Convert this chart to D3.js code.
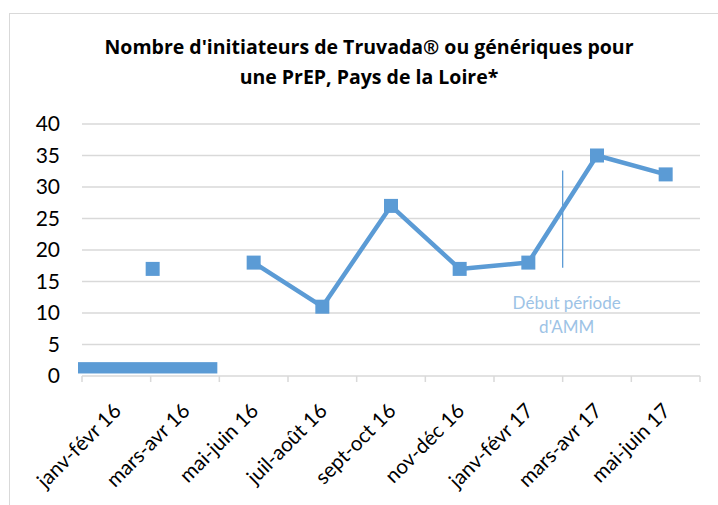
<!DOCTYPE html>
<html>
<head>
<meta charset="utf-8">
<title>Initiateurs PrEP Pays de la Loire</title>
<script src="https://d3js.org/d3.v7.min.js"></script>
<style>
body { margin: 0; background: #fff; }
svg { display: block; font-family: Lato, "Open Sans", sans-serif; }
.frame { fill: #fff; stroke: #d9d9d9; stroke-width: 1px; }
.grid line { stroke: #d9d9d9; stroke-width: 1.5px; }
.xaxis line { stroke: #d9d9d9; stroke-width: 1.5px; }
.title { font-family: "Open Sans", sans-serif; font-weight: bold; font-size: 19.5px; fill: #000; }
.ytick { font-size: 21px; fill: #000; }
.xtick { font-size: 20.5px; fill: #000; }
.serie { fill: none; stroke: #5b9bd5; stroke-width: 4.5px; stroke-linejoin: round; }
.mark { fill: #5b9bd5; }
.amm { stroke: #5b9bd5; stroke-width: 1.3px; }
.amm-text { font-size: 17px; fill: #9dc3e6; }
</style>
</head>
<body>
<script>

// --- data ---
var categories = ["janv-févr 16", "mars-avr 16", "mai-juin 16", "juil-août 16",
                  "sept-oct 16", "nov-déc 16", "janv-févr 17", "mars-avr 17", "mai-juin 17"];
var counts = [null, null, 18, 11, 27, 17, 18, 35, 32];   // first two periods hidden
var yTicks = [0, 5, 10, 15, 20, 25, 30, 35, 40];
var titleLines = ["Nombre d'initiateurs de Truvada® ou génériques pour",
                  "une PrEP, Pays de la Loire*"];

// hand placed marker, sitting on the left edge of its period
var looseMarkers = [{cat: "mars-avr 16", value: 17}];
// the thick band that masks the start of the series
var maskBand = {from: "janv-févr 16", to: "mars-avr 16", low: 0.4, high: 2.2};
// vertical line marking the AMM start, between two periods
var ammLine = {cat: "mars-avr 17", low: 17.2, high: 32.6};
var ammText = ["Début période", "d'AMM"];

var width = 718, height = 505,
    plotLeft = 82, plotRight = 700, plotTop = 124, plotBottom = 376,
    ms = 14; // marker size

var svg = d3.select("body").append("svg")
    .attr("width", width)
    .attr("height", height);

svg.append("rect").attr("class", "frame")
    .attr("x", 9.5).attr("y", 13.5)
    .attr("width", 730).attr("height", 520);

var x = d3.scaleBand().domain(categories).range([plotLeft, plotRight]).padding(0);
var y = d3.scaleLinear().domain([0, 40]).range([plotBottom, plotTop]);

// title
svg.append("g").selectAll("text")
    .data(titleLines)
  .enter().append("text")
    .attr("class", "title")
    .attr("x", 369)
    .attr("y", function(d, i) { return 54 + i * 30; })
    .attr("text-anchor", "middle")
    .text(function(d) { return d; });

// gridlines
svg.append("g").attr("class", "grid")
  .selectAll("line")
    .data(yTicks.filter(function(t) { return t > 0; }))
  .enter().append("line")
    .attr("x1", plotLeft).attr("x2", plotRight)
    .attr("y1", function(d) { return y(d); })
    .attr("y2", function(d) { return y(d); });

// y axis labels
var yAxis = svg.append("g")
    .attr("transform", "translate(" + plotLeft + ",0)")
    .call(d3.axisLeft(y).tickValues(yTicks).tickSize(0).tickPadding(22));
yAxis.select(".domain").remove();
yAxis.selectAll("text").attr("class", "ytick");
yAxis.attr("font-family", null).attr("font-size", null);

// x axis: line + ticks at period edges
var xg = svg.append("g").attr("class", "xaxis");
xg.append("line")
    .attr("x1", plotLeft).attr("x2", plotRight)
    .attr("y1", y(0)).attr("y2", y(0));
xg.selectAll("line.edge")
    .data(d3.range(categories.length + 1))
  .enter().append("line")
    .attr("class", "edge")
    .attr("x1", function(i) { return plotLeft + i * x.step(); })
    .attr("x2", function(i) { return plotLeft + i * x.step(); })
    .attr("y1", y(0)).attr("y2", y(0) + 6);

var xAxis = svg.append("g")
    .attr("transform", "translate(0," + y(0) + ")")
    .call(d3.axisBottom(x).tickSize(0));
xAxis.select(".domain").remove();
xAxis.attr("font-family", null).attr("font-size", null);
xAxis.selectAll("text")
    .attr("class", "xtick")
    .attr("x", 0).attr("y", 0).attr("dy", "0.35em")
    .attr("transform", "translate(1,31) rotate(-45)")
    .style("text-anchor", "end");

// mask band
svg.append("rect").attr("class", "mark")
    .attr("x", x(maskBand.from) - 4)
    .attr("width", x(maskBand.to) + x.bandwidth() - 2 - (x(maskBand.from) - 4))
    .attr("y", y(maskBand.high))
    .attr("height", y(maskBand.low) - y(maskBand.high));

// series line
var pts = categories.map(function(c, i) { return {cat: c, value: counts[i]}; });
var line = d3.line()
    .defined(function(d) { return d.value != null; })
    .x(function(d) { return x(d.cat) + x.bandwidth() / 2; })
    .y(function(d) { return y(d.value); });

svg.append("path").attr("class", "serie").attr("d", line(pts));

svg.append("g").selectAll("rect")
    .data(pts.filter(function(d) { return d.value != null; }))
  .enter().append("rect")
    .attr("class", "mark")
    .attr("x", function(d) { return x(d.cat) + x.bandwidth() / 2 - ms / 2; })
    .attr("y", function(d) { return y(d.value) - ms / 2; })
    .attr("width", ms).attr("height", ms);

svg.append("g").selectAll("rect")
    .data(looseMarkers)
  .enter().append("rect")
    .attr("class", "mark")
    .attr("x", function(d) { return x(d.cat) + 2 - ms / 2; })
    .attr("y", function(d) { return y(d.value) - ms / 2; })
    .attr("width", ms).attr("height", ms);

// AMM annotation
svg.append("line").attr("class", "amm")
    .attr("x1", x(ammLine.cat)).attr("x2", x(ammLine.cat))
    .attr("y1", y(ammLine.high)).attr("y2", y(ammLine.low));

svg.append("g").selectAll("text")
    .data(ammText)
  .enter().append("text")
    .attr("class", "amm-text")
    .attr("x", x(ammLine.cat) + 4)
    .attr("y", function(d, i) { return 309 + i * 24; })
    .attr("text-anchor", "middle")
    .text(function(d) { return d; });

</script>
</body>
</html>
